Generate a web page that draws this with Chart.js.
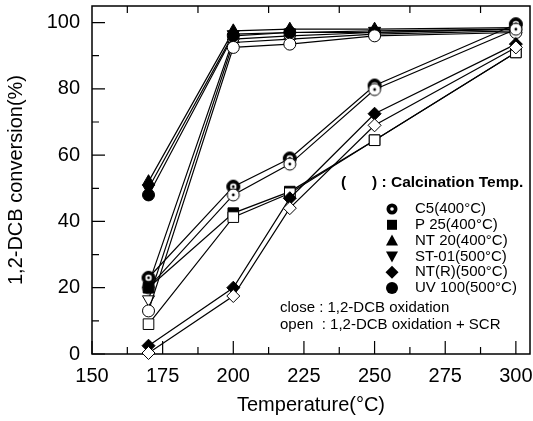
<!DOCTYPE html>
<html>
<head>
<meta charset="utf-8">
<script src="https://cdn.jsdelivr.net/npm/chart.js@4.4.1/dist/chart.umd.min.js"></script>
<style>
  html, body { margin: 0; padding: 0; background: #fff; }
  #wrap { width: 533px; height: 421px; }
</style>
</head>
<body>
<div id="wrap"><canvas id="chart"></canvas></div>
<script>
// data
const temps = [170, 200, 220, 250, 300];

const c5Close = [23, 50.5, 59, 81, 99.5];
const c5Open = [20, 48, 57.3, 79.8, 98];
const p25Close = [20, 42.5, 49, 64.5, 91];
const p25Open = [9, 41.3, 48.5, 64.5, 91];
const nt20Close = [52, 97.5, 98, 98, 98.5];
const nt20Open = [21, 95, 96, 97, 98];
const st01Close = [50, 96.5, 97, 97.5, 98];
const st01Open = [16.5, 94, 95, 96.5, 97.5];
const ntrClose = [2.5, 20, 47, 72.5, 93.5];
const ntrOpen = [0.3, 17.5, 44, 69, 92.5];
const uv100Close = [48, 96, 97, 97, 98];
const uv100Open = [13, 92.5, 93.5, 96, 97];

const xTicks = [150, 175, 200, 225, 250, 275, 300];
const yTicks = [0, 20, 40, 60, 80, 100];

const legendNames = ['C5(400°C)', 'P 25(400°C)', 'NT 20(400°C)', 'ST-01(500°C)', 'NT(R)(500°C)', 'UV 100(500°C)'];

const FONT = "'Liberation Sans', Arial, sans-serif";

// C5 marker: circle with a dot in the middle
function c5Marker(filled) {
    const cv = document.createElement('canvas');
    cv.width = 16; cv.height = 16;
    const g = cv.getContext('2d');
    g.beginPath(); g.arc(8, 8, filled ? 6.5 : 6, 0, Math.PI * 2);
    g.fillStyle = filled ? '#000' : '#fff'; g.fill();
    g.lineWidth = 1; g.strokeStyle = '#000'; g.stroke();
    if (filled) {
        g.beginPath(); g.arc(8, 8, 3.2, 0, Math.PI * 2);
        g.fillStyle = '#fff'; g.fill();
    }
    g.beginPath(); g.arc(8, 8, 1.4, 0, Math.PI * 2);
    g.fillStyle = '#000'; g.fill();
    return cv;
}

function series(label, values, style, filled, radius, rotation) {
    return {
        label: label,
        data: temps.map((t, i) => ({ x: t, y: values[i] })),
        borderColor: '#000',
        borderWidth: 1.2,
        pointStyle: style,
        pointRotation: rotation || 0,
        pointRadius: radius,
        pointBackgroundColor: filled ? '#000' : '#fff',
        pointBorderColor: '#000',
        pointBorderWidth: 1,
        tension: 0,
        fill: false,
        clip: false
    };
}

const datasets = [
    series('NT(R) open', ntrOpen, 'rectRot', false, 6.5),
    series('NT(R) close', ntrClose, 'rectRot', true, 6.5),
    series('P25 open', p25Open, 'rect', false, 7.5),
    series('P25 close', p25Close, 'rect', true, 7.5),
    series('C5 open', c5Open, c5Marker(false), false, 6),
    series('C5 close', c5Close, c5Marker(true), true, 6),
    series('UV100 open', uv100Open, 'circle', false, 6),
    series('UV100 close', uv100Close, 'circle', true, 6),
    series('ST-01 open', st01Open, 'triangle', false, 7, 180),
    series('ST-01 close', st01Close, 'triangle', true, 7, 180),
    series('NT20 open', nt20Open, 'triangle', false, 7),
    series('NT20 close', nt20Close, 'triangle', true, 7)
];

function legendMarker(ctx, i, x, y) {
    ctx.fillStyle = '#000';
    ctx.beginPath();
    if (i === 0) {
        ctx.arc(x, y, 5.5, 0, Math.PI * 2); ctx.fill();
        ctx.beginPath(); ctx.arc(x, y, 1.8, 0, Math.PI * 2);
        ctx.fillStyle = '#fff'; ctx.fill();
        return;
    }
    if (i === 1) { ctx.rect(x - 5, y - 5, 10, 10); }
    if (i === 2) { ctx.moveTo(x, y - 6); ctx.lineTo(x + 6, y + 5); ctx.lineTo(x - 6, y + 5); }
    if (i === 3) { ctx.moveTo(x, y + 6); ctx.lineTo(x + 6, y - 5); ctx.lineTo(x - 6, y - 5); }
    if (i === 4) { ctx.moveTo(x, y - 6.5); ctx.lineTo(x + 6.5, y); ctx.lineTo(x, y + 6.5); ctx.lineTo(x - 6.5, y); }
    if (i === 5) { ctx.arc(x, y, 6, 0, Math.PI * 2); }
    ctx.closePath();
    ctx.fill();
}

const framePlugin = {
    id: 'frame',
    beforeDatasetsDraw(chart) {
        const { ctx, chartArea: a, scales: { x, y } } = chart;
        ctx.save();
        ctx.strokeStyle = '#000';
        ctx.lineWidth = 1.5;
        ctx.strokeRect(a.left, a.top, a.right - a.left, a.bottom - a.top);
        ctx.lineWidth = 1.2;
        ctx.beginPath();
        for (let v = 150; v <= 300; v += 12.5) {
            const px = x.getPixelForValue(v);
            const len = v % 25 === 0 ? 13 : 7;
            ctx.moveTo(px, a.bottom); ctx.lineTo(px, a.bottom - len);
        }
        for (let v = 162.5; v <= 300; v += 25) {
            const px = x.getPixelForValue(v);
            ctx.moveTo(px, a.top); ctx.lineTo(px, a.top + 7);
        }
        for (let v = 0; v <= 100; v += 10) {
            const py = y.getPixelForValue(v);
            const len = v % 20 === 0 ? 13 : 7;
            ctx.moveTo(a.left, py); ctx.lineTo(a.left + len, py);
        }
        ctx.stroke();
        ctx.restore();
    },
    afterDraw(chart) {
        const ctx = chart.ctx;
        ctx.save();
        ctx.fillStyle = '#000';
        ctx.textBaseline = 'middle';
        ctx.font = 'bold 15.5px ' + FONT;
        ctx.fillText('(', 341, 183);
        ctx.fillText(') : Calcination Temp.', 372, 183);
        ctx.font = '15px ' + FONT;
        legendNames.forEach((name, i) => {
            const yy = 209 + i * 15.8;
            legendMarker(ctx, i, 392, yy);
            ctx.fillStyle = '#000';
            ctx.fillText(name, 415, yy);
        });
        ctx.fillText('close : 1,2-DCB oxidation', 280, 308);
        ctx.fillText('open  : 1,2-DCB oxidation + SCR', 280, 325);
        ctx.restore();
    }
};

new Chart(document.getElementById('chart'), {
    type: 'line',
    data: { datasets: datasets },
    plugins: [framePlugin],
    options: {
        responsive: true,
        maintainAspectRatio: false,
        animation: false,
        layout: { autoPadding: false, padding: { left: 0, right: 3, top: 6, bottom: 0 } },
        plugins: { legend: { display: false }, tooltip: { enabled: false } },
        scales: {
            x: {
                type: 'linear',
                min: 150, max: 305,
                grid: { display: false, drawTicks: false },
                border: { display: false },
                afterBuildTicks: s => { s.ticks = xTicks.map(v => ({ value: v })); },
                ticks: {
                    padding: 10,
                    color: '#000',
                    font: { family: FONT, size: 20 },
                    maxRotation: 0,
                    autoSkip: false
                },
                title: { display: true, text: 'Temperature(°C)', color: '#000', font: { family: FONT, size: 20 } },
                afterFit: s => { s.height = 67; s.paddingRight = 0; s.paddingLeft = 0; }
            },
            y: {
                min: 0, max: 105,
                grid: { display: false, drawTicks: false },
                border: { display: false },
                afterBuildTicks: s => { s.ticks = yTicks.map(v => ({ value: v })); },
                ticks: {
                    padding: 12,
                    color: '#000',
                    font: { family: FONT, size: 20 },
                    autoSkip: false
                },
                title: { display: true, text: '1,2-DCB conversion(%)', color: '#000', font: { family: FONT, size: 20 } },
                afterFit: s => { s.width = 92; s.paddingTop = 0; s.paddingBottom = 0; }
            }
        }
    }
});
</script>
</body>
</html>
